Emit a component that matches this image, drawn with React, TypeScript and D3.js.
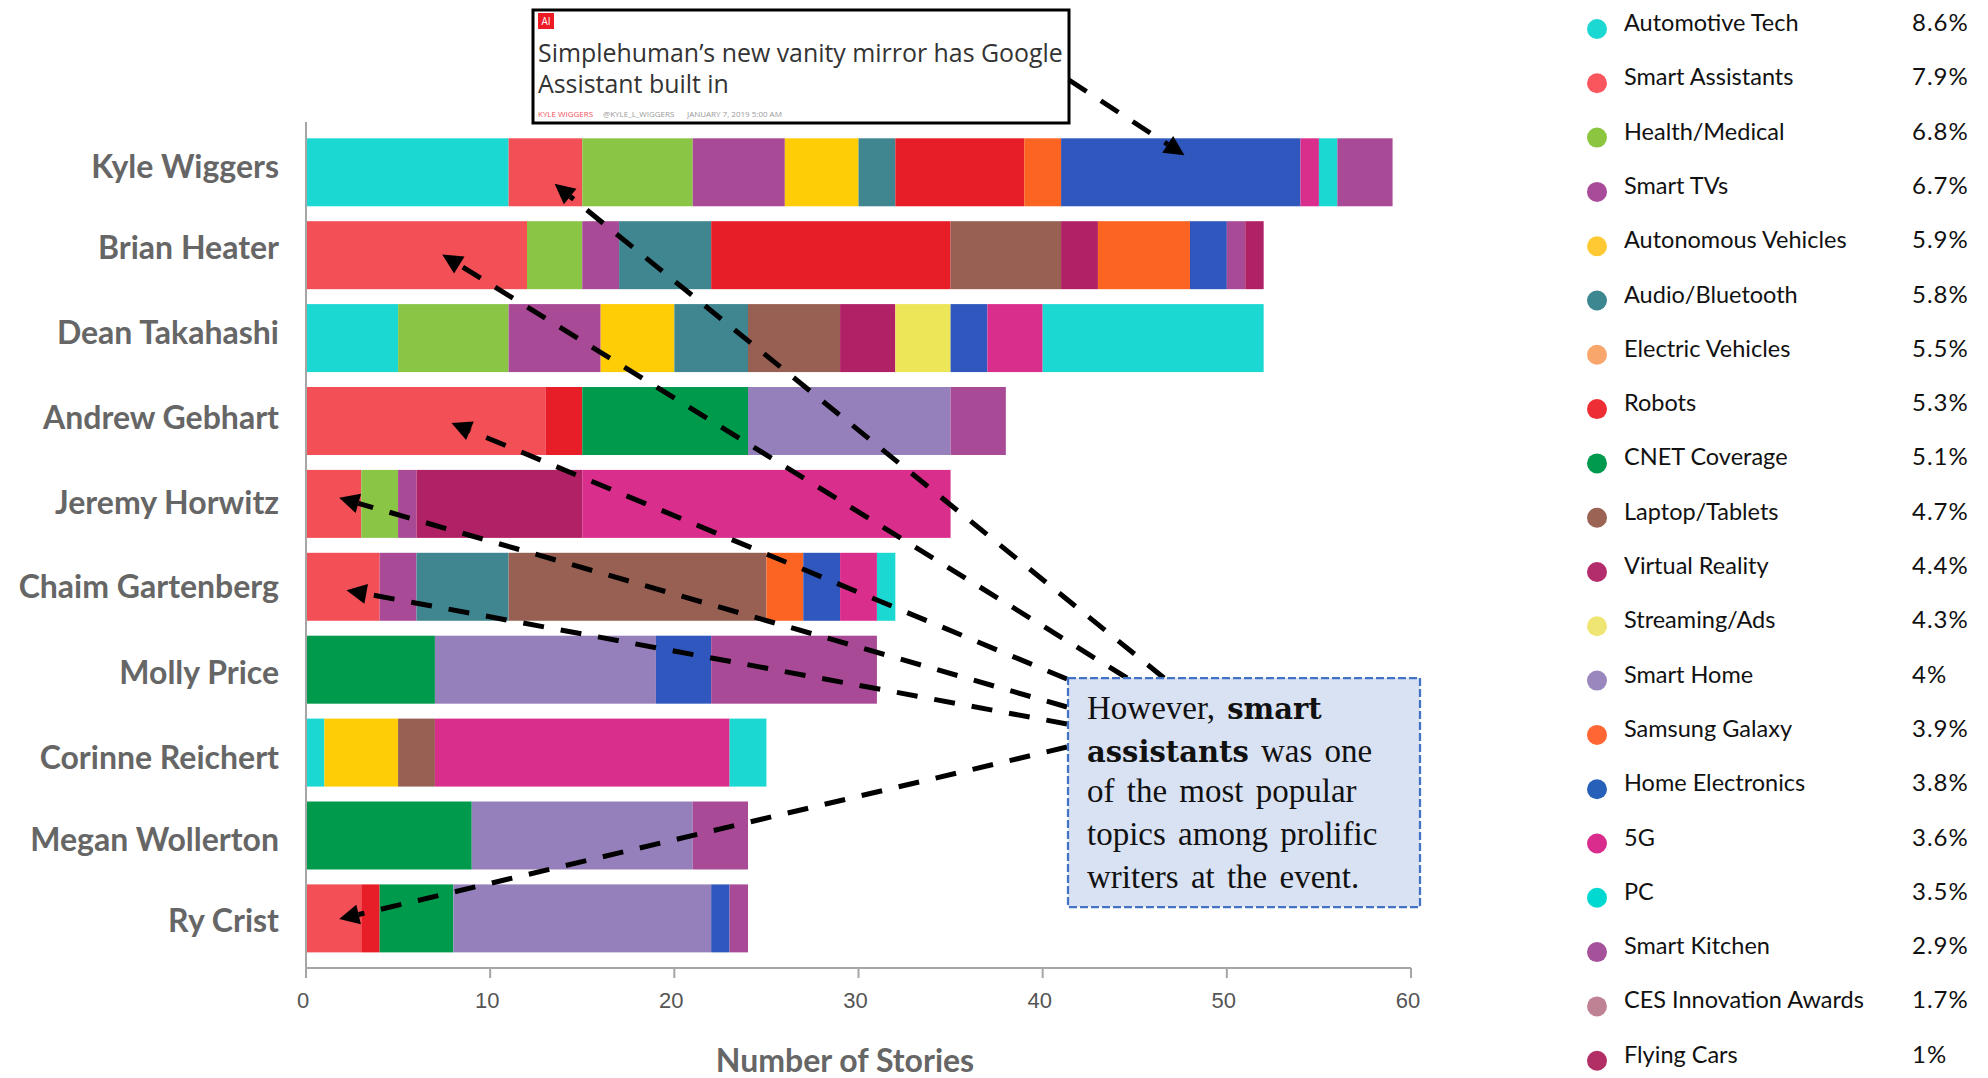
import React from "react";
import * as d3 from "d3";

// Writers, top of the chart first
const authors = [
  "Kyle Wiggers", "Brian Heater", "Dean Takahashi", "Andrew Gebhart", "Jeremy Horwitz",
  "Chaim Gartenberg", "Molly Price", "Corinne Reichert", "Megan Wollerton", "Ry Crist",
];

// Topics in stacking and legend order
const topics = [
  "Automotive Tech", "Smart Assistants", "Health/Medical", "Smart TVs", "Autonomous Vehicles",
  "Audio/Bluetooth", "Electric Vehicles", "Robots", "CNET Coverage", "Laptop/Tablets",
  "Virtual Reality", "Streaming/Ads", "Smart Home", "Samsung Galaxy", "Home Electronics",
  "5G", "PC", "Smart Kitchen", "CES Innovation Awards", "Flying Cars",
];
const topicShares = [
  "8.6%", "7.9%", "6.8%", "6.7%", "5.9%", "5.8%", "5.5%", "5.3%", "5.1%", "4.7%",
  "4.4%", "4.3%", "4%", "3.9%", "3.8%", "3.6%", "3.5%", "2.9%", "1.7%", "1%",
];
const barColors = [
  "#1cd8d2", "#f25056", "#8bc546", "#a94a97", "#ffcd05", "#3f8690", "#f9a66c", "#e71e27", "#009a4c", "#986053",
  "#b12166", "#ede659", "#9680bb", "#fc6421", "#3057bd", "#da2e8c", "#1cd8d2", "#a94a97", "#bf8294", "#b12166",
];
const dotColors = [
  "#1cd8d2", "#f9565e", "#8cc640", "#a84c9a", "#ffc933", "#3d8790", "#f9a66c", "#ed2e35", "#009a4e", "#9a6354",
  "#b32c6c", "#efe573", "#9a87bd", "#ff6633", "#2660b8", "#da2c8c", "#00d9d2", "#a5529a", "#bf8294", "#b22f66",
];

// Stories per topic for each writer, in topic order
const kyleWiggers = [11, 4, 6, 5, 4, 2, 0, 7, 0, 0, 0, 0, 0, 2, 13, 1, 1, 3, 0, 0];
const brianHeater = [0, 12, 3, 2, 0, 5, 0, 13, 0, 6, 2, 0, 0, 5, 2, 0, 0, 1, 0, 1];
const deanTakahashi = [5, 0, 6, 5, 4, 4, 0, 0, 0, 5, 3, 3, 0, 0, 2, 3, 12, 0, 0, 0];
const andrewGebhart = [0, 13, 0, 0, 0, 0, 0, 2, 9, 0, 0, 0, 11, 0, 0, 0, 0, 3, 0, 0];
const jeremyHorwitz = [0, 3, 2, 1, 0, 0, 0, 0, 0, 0, 9, 0, 0, 0, 0, 20, 0, 0, 0, 0];
const chaimGartenberg = [0, 4, 0, 2, 0, 5, 0, 0, 0, 14, 0, 0, 0, 2, 2, 2, 1, 0, 0, 0];
const mollyPrice = [0, 0, 0, 0, 0, 0, 0, 0, 7, 0, 0, 0, 12, 0, 3, 0, 0, 9, 0, 0];
const corinneReichert = [1, 0, 0, 0, 4, 0, 0, 0, 0, 2, 0, 0, 0, 0, 0, 16, 2, 0, 0, 0];
const meganWollerton = [0, 0, 0, 0, 0, 0, 0, 0, 9, 0, 0, 0, 12, 0, 0, 0, 0, 3, 0, 0];
const ryCrist = [0, 3, 0, 0, 0, 0, 0, 1, 4, 0, 0, 0, 14, 0, 1, 0, 0, 1, 0, 0];
const storyCounts = [
  kyleWiggers, brianHeater, deanTakahashi, andrewGebhart, jeremyHorwitz,
  chaimGartenberg, mollyPrice, corinneReichert, meganWollerton, ryCrist,
];

// Name labels sit slightly off their bars; vertical nudge for each row
const labelNudge = [0, -2, 0, 2, 4, 5, 8, 10, 10, 8];

const xTicks = [0, 10, 20, 30, 40, 50, 60];

// Callout arrows: tip given as stories along the row and fraction down the bar
const headlineArrow = { tail: [1069, 80], author: "Kyle Wiggers", value: 47.7, frac: 0.25 };
const calloutArrows = [
  { tail: [1164, 678], author: "Kyle Wiggers", value: 13.5, frac: 0.67 },
  { tail: [1127, 678], author: "Brian Heater", value: 7.4, frac: 0.49 },
  { tail: [1067, 679], author: "Andrew Gebhart", value: 7.9, frac: 0.53 },
  { tail: [1067, 707], author: "Jeremy Horwitz", value: 1.8, frac: 0.41 },
  { tail: [1067, 724], author: "Chaim Gartenberg", value: 2.2, frac: 0.55 },
  { tail: [1067, 747], author: "Ry Crist", value: 1.8, frac: 0.51 },
];

const WIDTH = 1988;
const HEIGHT = 1078;
const AXIS_Y = 968;
const GRAY = "#666";
const AXIS_GRAY = "#a6a6a6";
const FUTURA = "Lato, 'Noto Sans', sans-serif";
const SERIF = "'Liberation Serif', serif";
const SERIF_BOLD = "'DejaVu Serif', serif";

export default function App() {
  const x = d3.scaleLinear().domain([0, 60]).range([306, 1411]);
  const y = d3.scaleBand().domain(authors).range([130.84, 959.84]).paddingInner(0.18).paddingOuter(0.09);
  const legendY = d3.scalePoint().domain(topics).range([29, 29 + 19 * 54.3]);

  const rows = authors.map((author, i) => {
    const row: Record<string, any> = { author };
    topics.forEach((t, j) => (row[t] = storyCounts[i][j]));
    return row;
  });
  const series = d3.stack().keys(topics)(rows as any);

  const drawArrow = (a: { tail: number[]; author: string; value: number; frac: number }, i: number) => {
    const tipX = x(a.value);
    const tipY = (y(a.author) as number) + a.frac * y.bandwidth();
    const [tx, ty] = a.tail;
    const len = Math.hypot(tipX - tx, tipY - ty);
    const ux = (tipX - tx) / len;
    const uy = (tipY - ty) / len;
    const headLen = 20;
    const headHalf = 10;
    const bx = tipX - ux * headLen;
    const by = tipY - uy * headLen;
    const head = [
      [tipX, tipY],
      [bx - uy * headHalf, by + ux * headHalf],
      [bx + uy * headHalf, by - ux * headHalf],
    ];
    return (
      <g key={i}>
        <line x1={tx} y1={ty} x2={bx} y2={by} stroke="#000" strokeWidth={5} strokeDasharray="21 17" />
        <path d={d3.line()(head as any) + "Z"} fill="#000" />
      </g>
    );
  };

  return (
    <svg
      width={WIDTH}
      height={HEIGHT}
      viewBox={`0 0 ${WIDTH} ${HEIGHT}`}
      style={{ position: "absolute", left: 0, top: 0, display: "block", background: "#fff" }}
    >
      {/* stacked bars */}
      {series.map((s, k) => (
        <g key={s.key} fill={barColors[k]}>
          {s.map((d, i) =>
            d[1] > d[0] ? (
              <rect
                key={authors[i]}
                x={x(d[0])}
                y={y(authors[i])}
                width={x(d[1]) - x(d[0])}
                height={y.bandwidth()}
              />
            ) : null
          )}
        </g>
      ))}

      {/* axes */}
      <line x1={306} x2={306} y1={122} y2={978} stroke={AXIS_GRAY} strokeWidth={2} />
      <line x1={306} x2={x(60)} y1={AXIS_Y} y2={AXIS_Y} stroke={AXIS_GRAY} strokeWidth={2} />
      {xTicks.map((t) => (
        <g key={t}>
          <line x1={x(t)} x2={x(t)} y1={AXIS_Y} y2={AXIS_Y + 10} stroke={AXIS_GRAY} strokeWidth={2} />
          <text
            x={x(t) - 3}
            y={1008}
            textAnchor="middle"
            fontFamily="'Liberation Sans', sans-serif"
            fontSize={22}
            fill="#555"
          >
            {t}
          </text>
        </g>
      ))}
      <text x={845} y={1072} textAnchor="middle" fontFamily={FUTURA} fontWeight={700} fontSize={32} fill={GRAY}>
        Number of Stories
      </text>

      {/* writer names */}
      {authors.map((a, i) => (
        <text
          key={a}
          x={279}
          y={(y(a) as number) + y.bandwidth() / 2 + 6 + labelNudge[i]}
          textAnchor="end"
          fontFamily={FUTURA}
          fontWeight={700}
          fontSize={32}
          fill={GRAY}
        >
          {a}
        </text>
      ))}

      {/* legend */}
      {topics.map((t, i) => (
        <g key={t}>
          <circle cx={1597} cy={legendY(t) as number} r={10} fill={dotColors[i]} />
          <text x={1624} y={(legendY(t) as number) + 2} fontFamily={FUTURA} fontSize={23.5} fill="#111">
            {t}
          </text>
          <text x={1912} y={(legendY(t) as number) + 2} fontFamily={FUTURA} fontSize={24} letterSpacing={1} fill="#111">
            {topicShares[i]}
          </text>
        </g>
      ))}

      {/* article headline card */}
      <rect x={533} y={10} width={536} height={113} fill="#fff" stroke="#000" strokeWidth={3} />
      <rect x={538} y={13} width={16} height={16} fill="#ed1c24" />
      <text x={546} y={25} textAnchor="middle" fontFamily="'Open Sans', sans-serif" fontSize={10} fill="#fff">
        AI
      </text>
      <g fontFamily="'Open Sans', sans-serif" fontSize={24.9} fill="#333">
        <text x={538} y={62}>Simplehuman’s new vanity mirror has Google</text>
        <text x={538} y={93}>Assistant built in</text>
      </g>
      <g fontFamily="'Open Sans', sans-serif" fontSize={8} fill="#999">
        <text x={538} y={117} fill="#f0525a">KYLE WIGGERS</text>
        <text x={603} y={117}>@KYLE_L_WIGGERS</text>
        <text x={687} y={117}>JANUARY 7, 2019 5:00 AM</text>
      </g>

      {/* arrows from the headline and the callout */}
      {drawArrow(headlineArrow, 99)}
      {calloutArrows.map(drawArrow)}

      {/* callout */}
      <rect
        x={1068}
        y={678}
        width={352}
        height={229}
        fill="#d9e2f3"
        stroke="#4472c4"
        strokeWidth={2.25}
        strokeDasharray="8 3"
      />
      <g fontFamily={SERIF} fontSize={33} fill="#111" wordSpacing={4}>
        <text x={1087} y={719}>
          However, <tspan fontFamily={SERIF_BOLD} fontWeight={700} fontSize={29}>smart</tspan>
        </text>
        <text x={1087} y={762}>
          <tspan fontFamily={SERIF_BOLD} fontWeight={700} fontSize={29}>assistants</tspan> was one
        </text>
        <text x={1087} y={802}>of the most popular</text>
        <text x={1087} y={845}>topics among prolific</text>
        <text x={1087} y={888}>writers at the event.</text>
      </g>
    </svg>
  );
}
